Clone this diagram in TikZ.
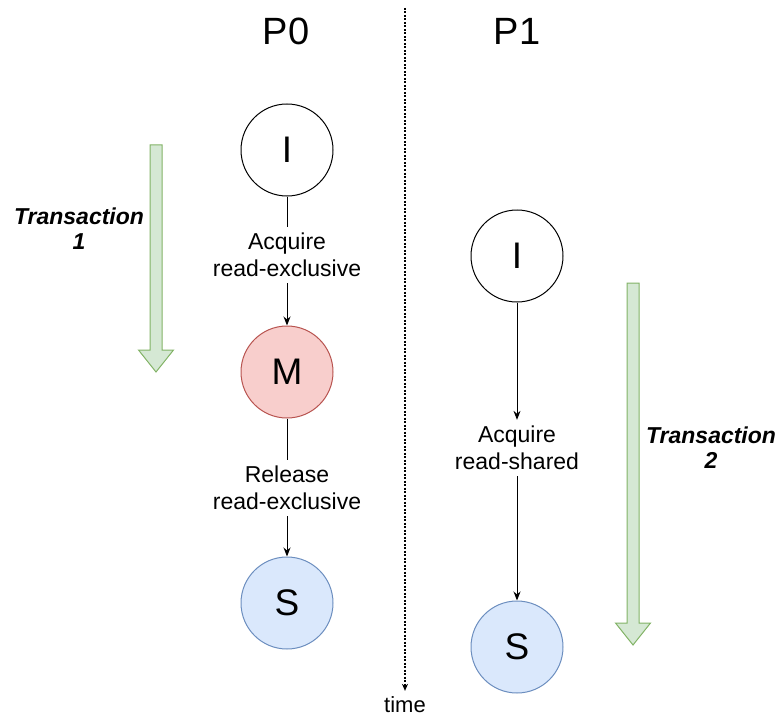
\documentclass[tikz,border=0pt]{standalone}
\usepackage{fontspec}
\setmainfont{Liberation Sans}
\usetikzlibrary{positioning,arrows.meta}
\definecolor{redfill}{HTML}{F8CECC}
\definecolor{redline}{HTML}{B85450}
\definecolor{bluefill}{HTML}{DAE8FC}
\definecolor{blueline}{HTML}{6C8EBF}
\definecolor{greenfill}{HTML}{D5E8D4}
\definecolor{greenline}{HTML}{82B366}
% #1 = x of shaft, #2 = top, #3 = start of head, #4 = tip
\newcommand{\txarrow}[4]{
  \draw[greenline, fill=greenfill, line width=1pt]
    (#1-6,#2) -- (#1+6,#2) -- (#1+6,#3) -- (#1+17.5,#3) -- (#1,#4)
    -- (#1-17.5,#3) -- (#1-6,#3) -- cycle;
}

\begin{document}
\begin{tikzpicture}[x=1pt, y=-1pt,
  cstate/.style={circle, draw, line width=1pt, minimum size=92pt, inner sep=0pt,
    font=\fontsize{37}{40}\selectfont},
  edgelab/.style={align=center, inner xsep=2pt, inner ysep=6pt,
    font=\fontsize{23}{27}\selectfont},
  txlab/.style={align=center, inner sep=1pt, font=\fontsize{23}{25}\selectfont\bfseries\itshape},
  head/.style={anchor=base, font=\fontsize{38}{40}\selectfont},
  conn/.style={line width=1pt, -{Stealth[length=9pt, width=7pt]}}]
\useasboundingbox (0,0) rectangle (778,722);

% processors
\foreach \p/\x in {0/286, 1/517} {
  \node[head] (p\p) at (\x,45) {P\p};
}

% time axis
\coordinate (ttop) at (405,8);
\node[anchor=base, font=\fontsize{22}{24}\selectfont, inner sep=1pt] (time) at (405,712) {time};
\draw[line width=1.2pt, dash pattern=on 2pt off 1.5pt,
  -{Stealth[length=7pt, width=6pt]}, shorten >=4pt] (ttop) -- (time.north);

% transactions
\txarrow{156}{145}{350}{372}
\txarrow{633}{283}{623}{645}
\node[txlab] (tx1) at (79,229) {Transaction\\1};
\node[txlab] (tx2) at (711,448) {Transaction\\2};

% P0
\node[cstate] (p0i) at (287,150) {I};
\node[edgelab] (lab0a) at (287,255) {Acquire\\read-exclusive};
\node[cstate, fill=redfill, draw=redline] (p0m) at (287,372) {M};
\node[edgelab] (lab0r) at (287,488) {Release\\read-exclusive};
\node[cstate, fill=bluefill, draw=blueline] (p0s) at (287,603) {S};
\draw[line width=1pt] (p0i) -- (lab0a);
\draw[conn] (lab0a) -- (p0m);
\draw[line width=1pt] (p0m) -- (lab0r);
\draw[conn] (lab0r) -- (p0s);

% P1
\node[cstate] (p1i) at (517,256) {I};
\node[edgelab] (lab1a) at (517,448) {Acquire\\read-shared};
\node[cstate, fill=bluefill, draw=blueline] (p1s) at (517,647) {S};
\draw[conn] (p1i) -- (lab1a);
\draw[conn] (lab1a) -- (p1s);
\end{tikzpicture}
\end{document}
